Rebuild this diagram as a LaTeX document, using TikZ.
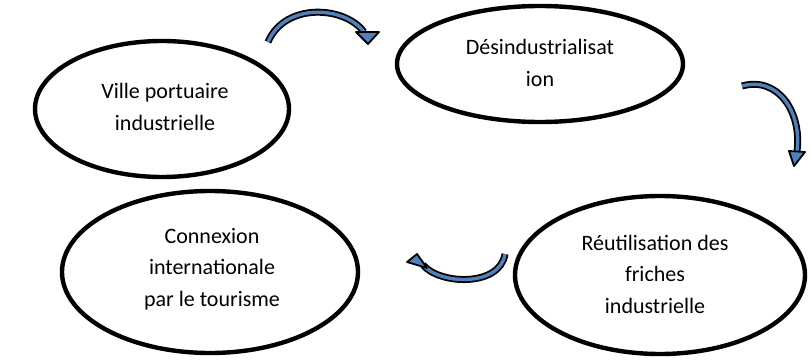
\documentclass[tikz,border=0pt]{standalone}
\usepackage{fontspec}
\setmainfont{Carlito}
\begin{document}
\begin{tikzpicture}[x=1pt,y=-1pt,
  oval/.style={draw=black,line width=4.4pt,fill=white},
  lbl/.style={align=center,font=\fontsize{22}{31.5}\selectfont},
  bandout/.style={draw=black,line width=7pt},
  bandin/.style={draw=arrowblue,line width=3.4pt},
  headst/.style={fill=arrowblue,draw=black,line width=1.8pt,line join=round}]
\definecolor{arrowblue}{HTML}{4F81BD}
\useasboundingbox (0,0) rectangle (810,363);
% ellipses
\draw[oval] (162,109) ellipse [x radius=127,y radius=68];
\draw[oval] (540,64) ellipse [x radius=143,y radius=58];
\draw[oval] (660,275) ellipse [x radius=145,y radius=79];
\draw[oval] (210,272) ellipse [x radius=148,y radius=81];
% labels
\node[lbl] (n1) at (165,107) {Ville portuaire\\industrielle};
\node[lbl] (n2) at (540,63) {Désindustrialisat\\ion};
\node[lbl] (n3) at (655,274) {Réutilisation des\\friches\\industrielle};
\node[lbl] (n4) at (212,269) {Connexion\\internationale\\par le tourisme};
% arrow 1
\coordinate (a1s) at (268,42);
\coordinate (a1e) at (364,32);
\draw[bandout] (a1s) .. controls (285,2) and (345,6) .. (a1e);
\draw[bandin] (a1s) .. controls (285,2) and (345,6) .. (a1e);
\draw[headst] (356,32) -- (379,32) -- (368,44) -- cycle;
% arrow 2
\coordinate (a2s) at (742,86);
\coordinate (a2e) at (797,151);
\draw[bandout] (a2s) .. controls (778,76) and (802,112) .. (a2e);
\draw[bandin] (a2s) .. controls (778,76) and (802,112) .. (a2e);
\draw[headst] (789,151) -- (805,152) -- (794,166) -- cycle;
% arrow 3
\coordinate (a3s) at (505,254);
\coordinate (a3e) at (423,265);
\draw[bandout] (a3s) .. controls (500,287) and (440,285) .. (a3e);
\draw[bandin] (a3s) .. controls (500,287) and (440,285) .. (a3e);
\draw[headst] (417,254) -- (427,268) -- (407,262) -- cycle;
\end{tikzpicture}
\end{document}
